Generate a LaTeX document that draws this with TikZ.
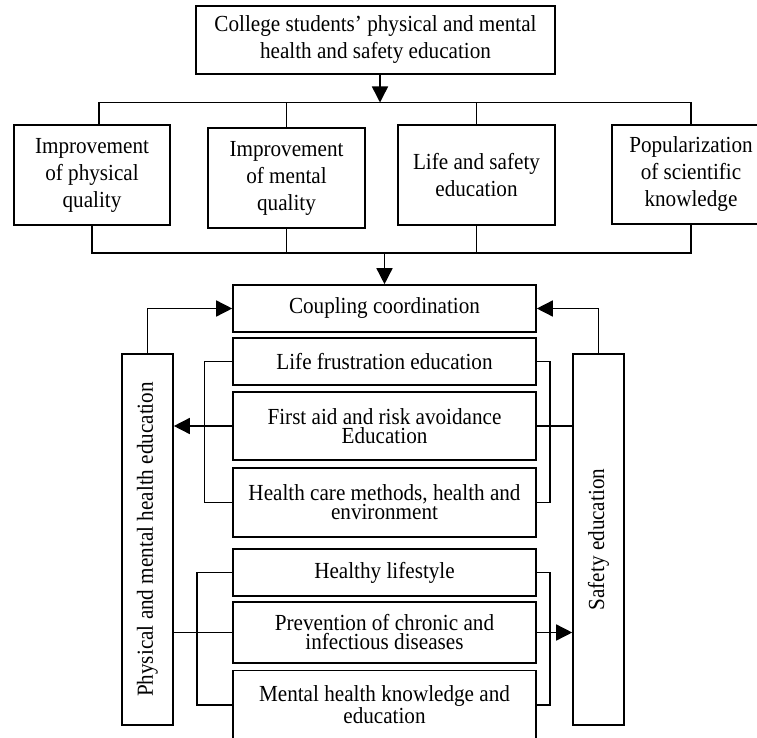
\documentclass[tikz,border=0pt]{standalone}
\usepackage{fontspec}
\usepackage{graphicx}
\setmainfont{Liberation Serif}[FakeStretch=0.92]
\usetikzlibrary{arrows.meta,calc}
\begin{document}
\begin{tikzpicture}[x=1pt,y=-1pt,
  ln/.style={line width=1.5pt},
  arr/.style={ln,-{Triangle[length=16pt,width=16pt]}},
  box/.style={draw,line width=1.6pt,inner sep=0pt,align=center,font=\fontsize{23}{27}\selectfont},
  lbox/.style={draw,line width=1.6pt,inner sep=0pt,align=center,font=\fontsize{23}{19}\selectfont},
  bx/.style 2 args={box,minimum width=#1,minimum height=#2},
  lbx/.style 2 args={lbox,minimum width=#1,minimum height=#2}]
\useasboundingbox (0,0) rectangle (757,738);
\fill[white] (0,0) rectangle (757,738);
% top
\node[bx={359pt}{68pt}] (top) at (375.5,40) {College students’ physical and mental\\health and safety education};
\node[bx={156pt}{100pt}] (b1) at (92,175) {Improvement\\of physical\\quality};
\node[bx={157pt}{100pt}] (b2) at (286.5,178) {Improvement\\of mental\\quality};
\node[bx={157pt}{100pt}] (b3) at (476.5,175) {Life and safety\\education};
\node[bx={158pt}{99pt}] (b4) at (691,174.5) {Popularization\\of scientific\\knowledge};
% middle column
\node[lbx={303pt}{47pt}] (coup) at (384.5,308.5) {Coupling coordination};
\node[lbx={303pt}{47pt}] (life) at (384.5,361.5) {Life frustration education};
\node[lbx={303pt}{68pt}] (first) at (384.5,426) {First aid and risk avoidance\\Education};
\node[lbx={303pt}{69pt}] (hcare) at (384.5,502.5) {Health care methods, health and\\environment};
\node[lbx={303pt}{47pt}] (hlife) at (384.5,572.5) {Healthy lifestyle};
\node[lbx={303pt}{61pt}] (prev) at (384.5,632.5) {Prevention of chronic and\\infectious diseases};
\node[lbx={303pt}{69pt}] (mental) at (384.5,705) {Mental health knowledge and\\education};
% side boxes
\node[lbx={51pt}{371pt}] (left) at (147.5,539.5) {\rotatebox{90}{Physical and mental health education}};
\node[lbx={51pt}{371pt}] (right) at (598.5,539.5) {\rotatebox{90}{Safety education}};
% connectors top
\coordinate (h1) at (380,102.5);
\coordinate (s1) at (99,102.5);
\draw[arr] (top.south -| h1) -- (h1);
\draw[ln] (s1 |- b1.north) -- (s1) -- (b4.north |- h1) -- (b4.north);
\draw[ln] (b2.north) -- (b2.north |- h1);
\draw[ln] (b3.north) -- (b3.north |- h1);
\coordinate (h2) at (384.5,253);
\draw[ln] (b1.south) -- (b1.south |- h2) -- (b4.south |- h2) -- (b4.south);
\draw[ln] (b2.south) -- (b2.south |- h2);
\draw[ln] (b3.south) -- (b3.south |- h2);
\draw[arr] (h2) -- (coup.north);
% feedback
\draw[arr] (left.north) |- (coup.west);
\draw[arr] (right.north) |- (coup.east);
% brackets
\coordinate (bl1) at (204.5,0);
\coordinate (bl2) at (197,0);
\coordinate (br) at (550,0);
\draw[ln] (life.west) -- (life.west -| bl1) -- (hcare.west -| bl1) -- (hcare.west);
\draw[arr] (first.west) -- (first.west -| left.east);
\draw[ln] (life.east) -- (life.east -| br) -- (hcare.east -| br) -- (hcare.east);
\draw[ln] (first.east) -- (first.east -| right.west);
\draw[ln] (hlife.west) -- (hlife.west -| bl2) -- (mental.west -| bl2) -- (mental.west);
\draw[ln] (left.east |- prev.west) -- (prev.west);
\draw[ln] (hlife.east) -- (hlife.east -| br) -- (mental.east -| br) -- (mental.east);
\draw[arr] (prev.east) -- (prev.east -| right.west);
\end{tikzpicture}
\end{document}
